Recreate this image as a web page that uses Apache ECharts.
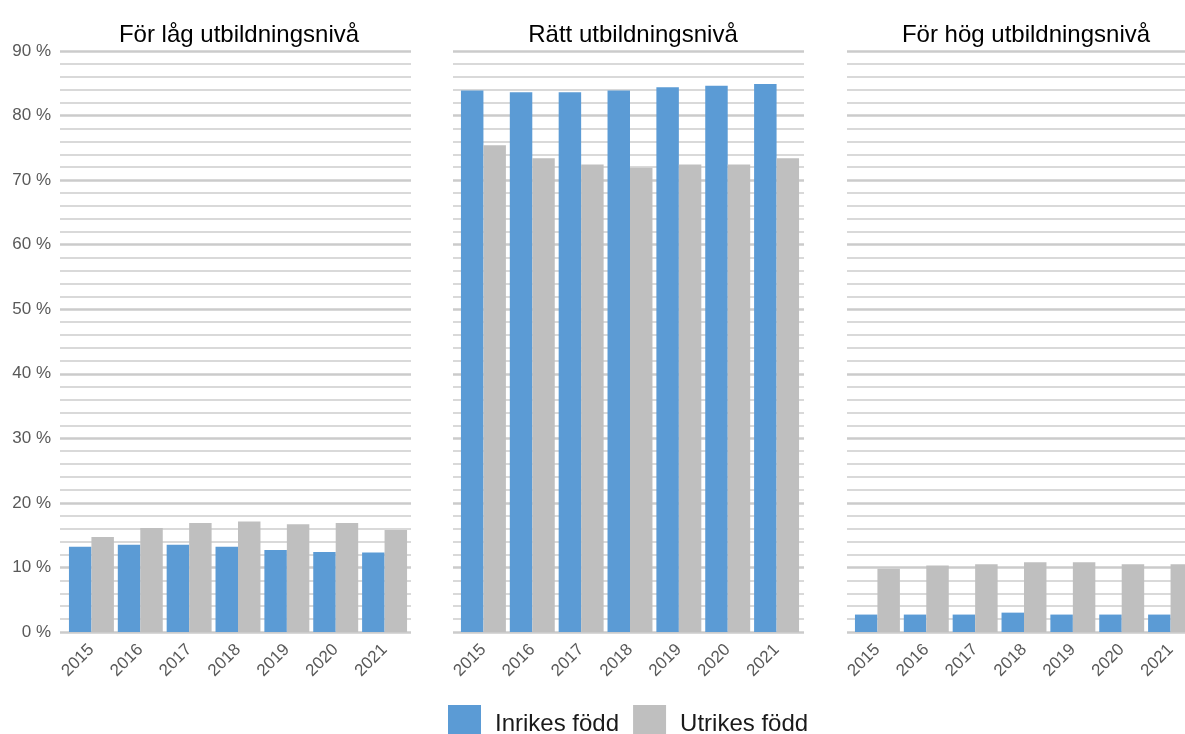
<!DOCTYPE html>
<html>
<head>
<meta charset="utf-8">
<script src="https://cdn.jsdelivr.net/npm/echarts@6/dist/echarts.min.js"></script>
<style>
  html, body { margin: 0; padding: 0; background: #fff; overflow: hidden; }
  #chart { width: 1205px; height: 760px; }
</style>
</head>
<body>
<div id="chart"></div>
<script>
  // data
  var years = ['2015', '2016', '2017', '2018', '2019', '2020', '2021'];
  var panelTitles = ['För låg utbildningsnivå', 'Rätt utbildningsnivå', 'För hög utbildningsnivå'];
  var seriesNames = ['Inrikes född', 'Utrikes född'];
  var lagInrikes = [13.2, 13.5, 13.5, 13.2, 12.7, 12.4, 12.3];
  var lagUtrikes = [14.7, 16.1, 16.9, 17.1, 16.7, 16.9, 15.8];
  var rattInrikes = [83.9, 83.6, 83.6, 83.9, 84.4, 84.6, 84.9];
  var rattUtrikes = [75.4, 73.4, 72.4, 71.9, 72.4, 72.4, 73.4];
  var hogInrikes = [2.7, 2.7, 2.7, 3.0, 2.7, 2.7, 2.7];
  var hogUtrikes = [9.8, 10.3, 10.5, 10.8, 10.8, 10.5, 10.5];
  var yMin = 0, yMax = 90, yStep = 10;

(function () {
  'use strict'

  var panelData = [
    [lagInrikes, lagUtrikes],
    [rattInrikes, rattUtrikes],
    [hogInrikes, hogUtrikes]
  ];

  var font = 'Liberation Sans, Arial, sans-serif';
  var gridTop = 51, gridHeight = 581;
  var lineLeft = [60, 453, 847];   // gridline area
  var barLeft = [67, 459, 853];    // category area
  var centers = [234, 628, 1021];

  var grids = [], xAxes = [], yAxes = [], series = [], titles = [];

  // gridline grids (0..2)
  for (var i = 0; i < 3; i++) {
    grids.push({ left: lineLeft[i], top: gridTop, width: 351, height: gridHeight });
    xAxes.push({ gridIndex: i, type: 'value', min: 0, max: 1, show: false });
    yAxes.push({
      gridIndex: i, type: 'value', min: yMin, max: yMax, interval: yStep,
      axisLine: { show: false },
      axisTick: { show: false },
      axisLabel: {
        show: i === 0, formatter: '{value} %', margin: 9,
        fontFamily: font, fontSize: 17, color: '#595959'
      },
      splitLine: { lineStyle: { color: '#cbcbcb', width: 2.5 } },
      minorTick: { show: false, splitNumber: 5 },
      minorSplitLine: { show: true, lineStyle: { color: '#d9d9d9', width: 2 } }
    });
    titles.push({
      text: panelTitles[i], left: centers[i], top: 18, textAlign: 'center',
      textStyle: { fontFamily: font, fontSize: 24, fontWeight: 'normal', color: '#000' }
    });
  }

  // bar grids (3..5)
  for (var j = 0; j < 3; j++) {
    var g = 3 + j;
    grids.push({ left: barLeft[j], top: gridTop, width: 342, height: gridHeight });
    xAxes.push({
      gridIndex: g, type: 'category', data: years,
      axisLine: { show: false },
      axisTick: { show: false },
      axisLabel: { rotate: 45, margin: 15, fontFamily: font, fontSize: 17, color: '#595959' }
    });
    yAxes.push({ gridIndex: g, type: 'value', min: yMin, max: yMax, show: false, splitLine: { show: false } });
    series.push({
      name: seriesNames[0], type: 'bar', xAxisIndex: g, yAxisIndex: g,
      data: panelData[j][0], barGap: '0%', barCategoryGap: '8%',
      itemStyle: { color: '#5b9bd5' }
    });
    series.push({
      name: seriesNames[1], type: 'bar', xAxisIndex: g, yAxisIndex: g,
      data: panelData[j][1], barGap: '0%', barCategoryGap: '8%',
      itemStyle: { color: '#bfbfbf' }
    });
  }

  var option = {
    animation: false,
    title: titles,
    legend: {
      data: seriesNames, left: 448, top: 705, padding: 0,
      itemWidth: 33, itemHeight: 39, itemGap: 14,
      icon: 'rect',
      textStyle: { fontFamily: font, fontSize: 24, color: '#1a1a1a', padding: [0, 0, 0, 9] }
    },
    grid: grids,
    xAxis: xAxes,
    yAxis: yAxes,
    series: series
  };

  var chart = echarts.init(document.getElementById('chart'));
  chart.setOption(option);
})();
</script>
</body>
</html>
